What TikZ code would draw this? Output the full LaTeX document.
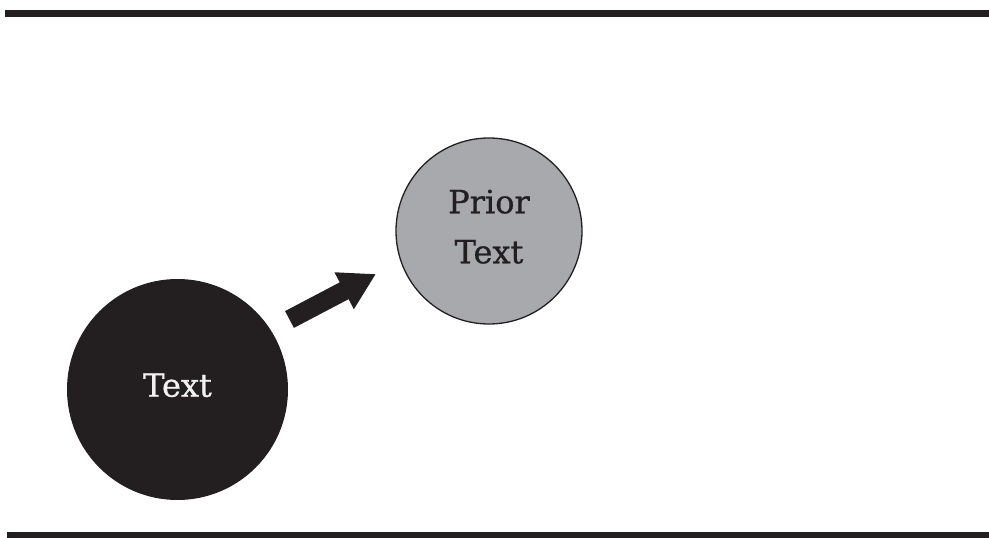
\documentclass[tikz,border=0pt]{standalone}
\usepackage{fontspec}
\setmainfont{DejaVu Serif}[FakeBold=0.8]
\usetikzlibrary{arrows.meta}
\definecolor{ink}{HTML}{231F20}
\definecolor{stone}{HTML}{A7A9AC}
\definecolor{paper}{HTML}{F1F1F1}
\begin{document}
\begin{tikzpicture}[x=1pt,y=-1pt,
  bar/.style={fill=ink,draw=none},
  darkdisc/.style={circle,fill=ink,draw=none,minimum size=221pt,inner sep=0pt,
    text=paper,font=\fontsize{32}{50}\selectfont,align=center,text depth=9pt},
  greydisc/.style={circle,fill=stone,draw=ink,line width=1.3pt,minimum size=186pt,inner sep=0pt,
    text=ink,font=\fontsize{32}{50}\selectfont,align=center,text depth=9pt},
  fatarrow/.style={draw=ink,line width=19pt,-{Triangle[length=36pt,width=39pt]}}]
  \useasboundingbox (0,0) rectangle (989,538);
  % rules above and below
  \fill[bar] (5,10) rectangle (989,16.5);
  \fill[bar] (7,532) rectangle (989,538);
  % the two discs
  \node[darkdisc] (now) at (177.5,389.5) {Text};
  \node[greydisc] (prior) at (489,231) {Prior\\Text};
  % arrow between them
  \coordinate (tail) at (289.5,319.5);
  \coordinate (tip) at (376,274);
  \draw[fatarrow] (tail) -- (tip);
\end{tikzpicture}
\end{document}
